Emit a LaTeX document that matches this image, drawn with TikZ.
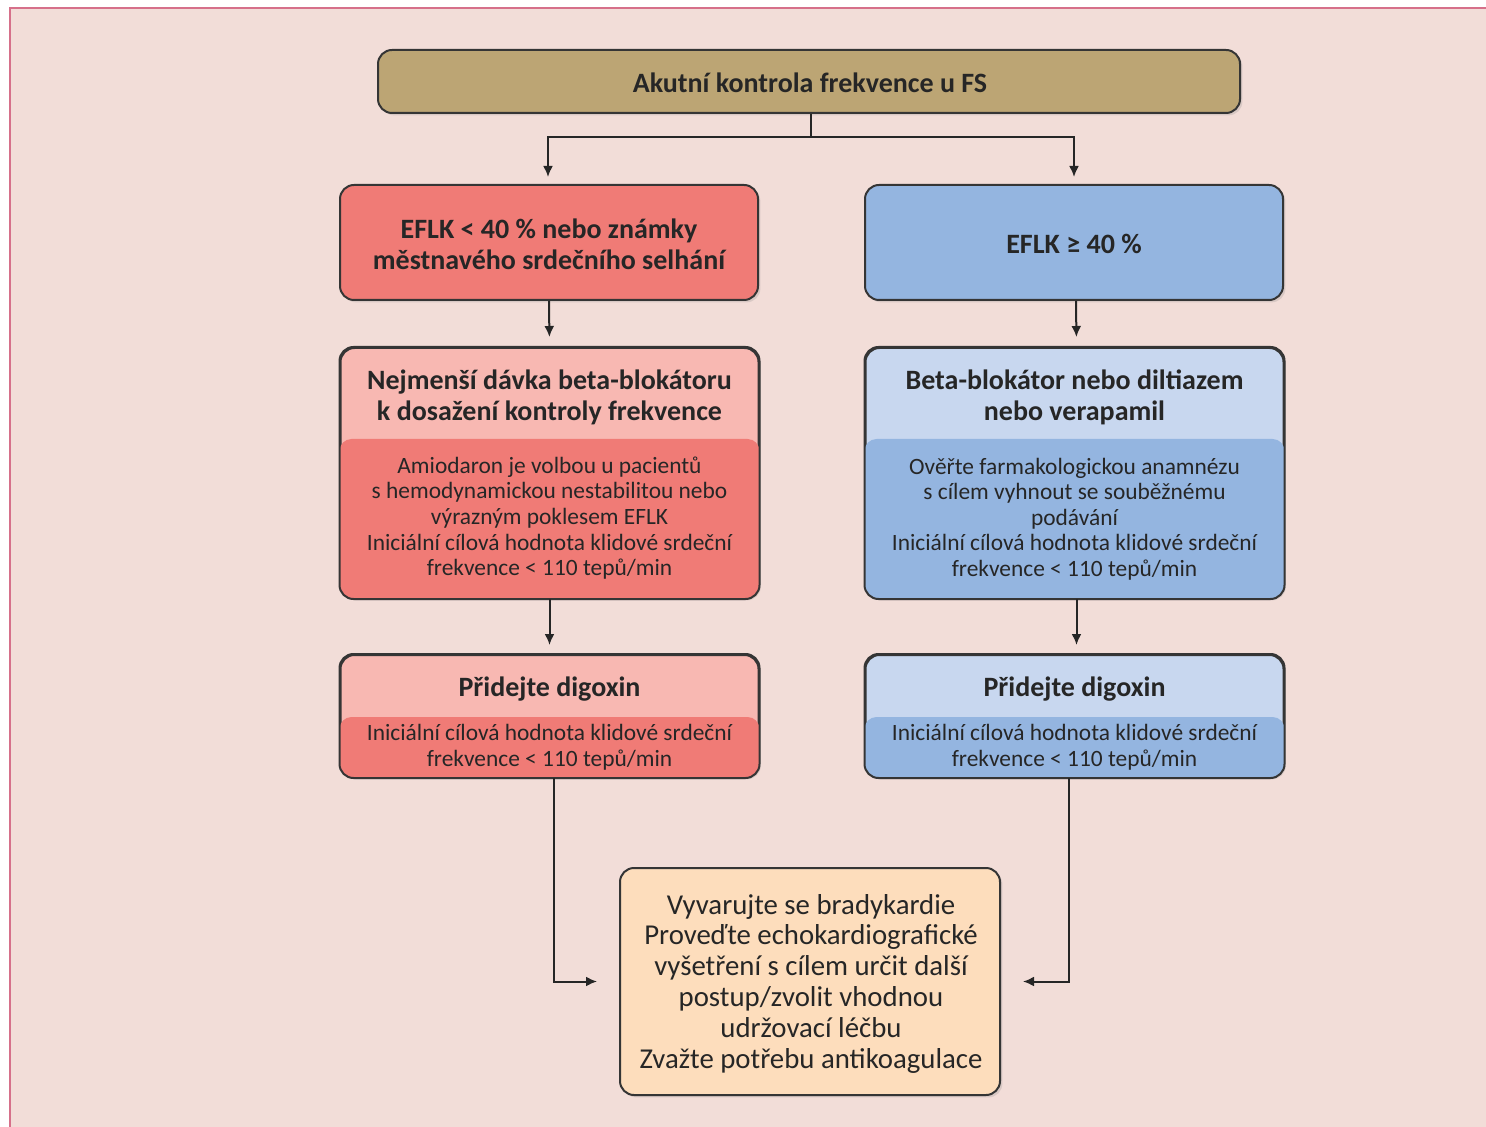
\documentclass[tikz,border=0pt]{standalone}
\usepackage{fontspec}
\setmainfont{Carlito}
\usetikzlibrary{arrows.meta,shadows}
\definecolor{bgpink}{HTML}{F2DDD8}
\definecolor{framec}{HTML}{D6708A}
\definecolor{tan}{HTML}{BCA574}
\definecolor{reddark}{HTML}{F07B76}
\definecolor{redlight}{HTML}{F8B8B2}
\definecolor{bluedark}{HTML}{94B5E0}
\definecolor{bluelight}{HTML}{C8D7EF}
\definecolor{peach}{HTML}{FDDDBC}
\definecolor{edge}{HTML}{353535}
\definecolor{txt}{HTML}{262626}
\tikzset{
  boxbase/.style={draw=edge, line width=1pt, rounded corners=7pt, inner sep=0pt,
    drop shadow={opacity=0.22, shadow xshift=1.2pt, shadow yshift=-1.2pt}},
  outline/.style={draw=edge, line width=1pt, rounded corners=7pt},
  headtxt/.style={inner sep=0pt, align=center, text=txt, font=\bfseries\fontsize{14}{15.5}\selectfont},
  bodytxt/.style={inner sep=0pt, align=center, text=txt, font=\fontsize{11.7}{12.8}\selectfont},
  finaltxt/.style={inner sep=0pt, align=center, text=txt, font=\fontsize{14.4}{15.4}\selectfont},
  conn/.style={draw=black!85, line width=1pt},
  arr/.style={conn, -{Latex[length=5.5pt,width=5pt]}},
}
\begin{document}
\begin{tikzpicture}[x=0.5pt,y=-0.5pt]
\useasboundingbox (0,0) rectangle (1486,1127);
\fill[white] (0,0) rectangle (1486,1127);
\fill[bgpink] (10,8) rectangle (1486,1127);
\draw[framec, line width=1pt] (10,1127) -- (10,8) -- (1486,8);

% title
\node[boxbase, fill=tan, minimum width=431pt, minimum height=31.5pt] (t) at (809,81.5) {};
\node[headtxt] (tt) at (810,82.5) {Akutní kontrola frekvence u FS};

% level 1
\node[boxbase, fill=reddark, minimum width=209pt, minimum height=57.5pt] (r1) at (549,242.5) {};
\node[headtxt] (r1t) at (549,244.5) {EFLK < 40 \% nebo známky\\městnavého srdečního selhání};
\node[boxbase, fill=bluedark, minimum width=209pt, minimum height=57.5pt] (b1) at (1074,242.5) {};
\node[headtxt] (b1t) at (1074,244) {EFLK ≥ 40 \%};

% level 2
\coordinate (d2) at (0,439);
\node[boxbase, fill=redlight, minimum width=209pt, minimum height=125pt] (r2) at (549.5,473) {};
\begin{scope}
  \clip[rounded corners=7pt] (r2.south west) rectangle (r2.north east);
  \fill[reddark, rounded corners=6pt] (r2.west |- d2) rectangle ([yshift=-10pt]r2.south east);
\end{scope}
\draw[outline] (r2.south west) rectangle (r2.north east);
\node[headtxt] (r2h) at (549.5,397) {Nejmenší dávka beta-blokátoru\\k dosažení kontroly frekvence};
\node[bodytxt] (r2b) at (549.5,518) {Amiodaron je volbou u pacientů\\s hemodynamickou nestabilitou nebo\\výrazným poklesem EFLK\\Iniciální cílová hodnota klidové srdeční\\frekvence < 110 tepů/min};

\node[boxbase, fill=bluelight, minimum width=209pt, minimum height=125pt] (b2) at (1074.5,473) {};
\begin{scope}
  \clip[rounded corners=7pt] (b2.south west) rectangle (b2.north east);
  \fill[bluedark, rounded corners=6pt] (b2.west |- d2) rectangle ([yshift=-10pt]b2.south east);
\end{scope}
\draw[outline] (b2.south west) rectangle (b2.north east);
\node[headtxt] (b2h) at (1074.5,397) {Beta-blokátor nebo diltiazem\\nebo verapamil};
\node[bodytxt] (b2b) at (1074.5,519) {Ověřte farmakologickou anamnézu\\s cílem vyhnout se souběžnému\\podávání\\Iniciální cílová hodnota klidové srdeční\\frekvence < 110 tepů/min};

% level 3
\coordinate (d3) at (0,717);
\node[boxbase, fill=redlight, minimum width=209pt, minimum height=61pt] (r3) at (549.5,716) {};
\begin{scope}
  \clip[rounded corners=7pt] (r3.south west) rectangle (r3.north east);
  \fill[reddark, rounded corners=6pt] (r3.west |- d3) rectangle ([yshift=-10pt]r3.south east);
\end{scope}
\draw[outline] (r3.south west) rectangle (r3.north east);
\node[headtxt] (r3h) at (549.5,689) {Přidejte digoxin};
\node[bodytxt] (r3b) at (549.5,747) {Iniciální cílová hodnota klidové srdeční\\frekvence < 110 tepů/min};

\node[boxbase, fill=bluelight, minimum width=209pt, minimum height=61pt] (b3) at (1074.5,716) {};
\begin{scope}
  \clip[rounded corners=7pt] (b3.south west) rectangle (b3.north east);
  \fill[bluedark, rounded corners=6pt] (b3.west |- d3) rectangle ([yshift=-10pt]b3.south east);
\end{scope}
\draw[outline] (b3.south west) rectangle (b3.north east);
\node[headtxt] (b3h) at (1074.5,689) {Přidejte digoxin};
\node[bodytxt] (b3b) at (1074.5,747) {Iniciální cílová hodnota klidové srdeční\\frekvence < 110 tepů/min};

% final
\node[boxbase, fill=peach, minimum width=190pt, minimum height=113.5pt] (f) at (810,981.5) {};
\node[finaltxt] (ft) at (811,983.5) {Vyvarujte se bradykardie\\Proveďte echokardiografické\\vyšetření s cílem určit další\\postup/zvolit vhodnou\\udržovací léčbu\\Zvažte potřebu antikoagulace};

% connectors
\coordinate (jy) at (0,137);
\draw[conn] ([xshift=1pt]t.south) -- ([xshift=1pt]t.south |- jy);
\draw[arr, shorten >=3.5pt] ([xshift=1pt]t.south |- jy) -| ([xshift=-0.5pt]r1.north);
\draw[arr, shorten >=3.5pt] ([xshift=1pt]t.south |- jy) -| (b1.north);
\draw[arr, shorten >=5pt] (r1.south) -- (r2.north);
\draw[arr, shorten >=5pt] ([xshift=1pt]b1.south) -- ([xshift=1pt]b2.north);
\draw[arr, shorten >=4.5pt] (r2.south) -- (r3.north);
\draw[arr, shorten >=4.5pt] ([xshift=1pt]b2.south) -- ([xshift=1pt]b3.north);
\draw[arr, shorten >=11pt] ([xshift=2pt]r3.south) |- (f.west);
\draw[arr, shorten >=11pt] ([xshift=-3pt]b3.south) |- (f.east);
\end{tikzpicture}
\end{document}
